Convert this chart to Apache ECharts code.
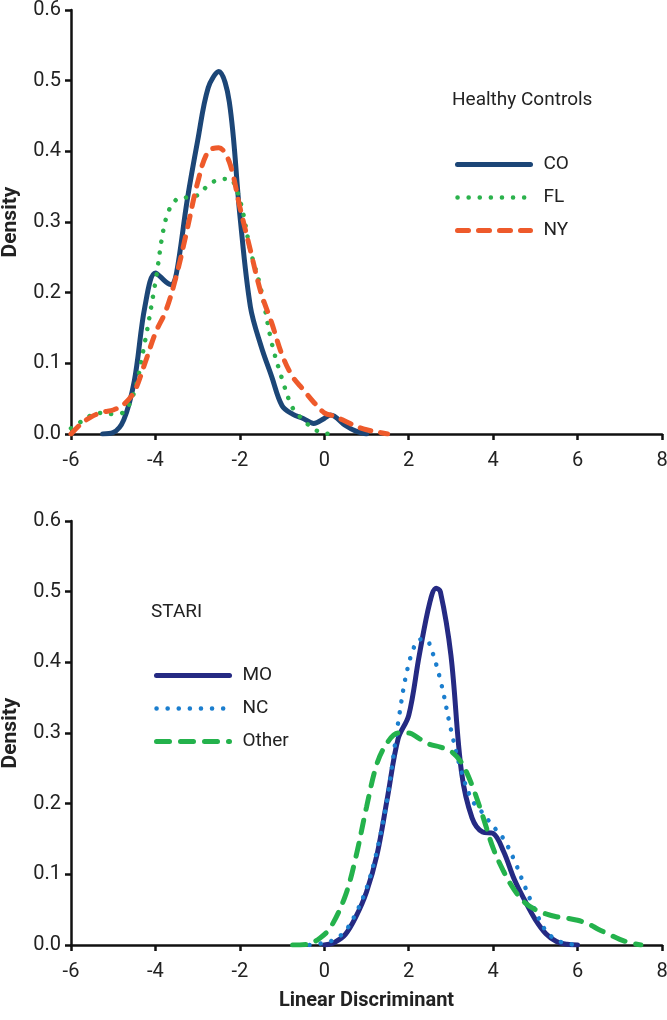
<!DOCTYPE html>
<html>
<head>
<meta charset="utf-8">
<script src="https://cdn.jsdelivr.net/npm/echarts@6/dist/echarts.min.js"></script>
<style>
html,body{margin:0;padding:0;background:#fff;}
#chart{width:667px;height:1020px;}
</style>
</head>
<body>
<div id="chart"></div>
<script>
// ---- Data ----
const xTicks = [-6, -4, -2, 0, 2, 4, 6, 8];
const yTicks = [0.0, 0.1, 0.2, 0.3, 0.4, 0.5, 0.6];

// Healthy Controls
const coX = [-5.25,-5.0,-4.75,-4.5,-4.25,-4.0,-3.75,-3.62,-3.5,-3.25,-3.0,-2.75,-2.5,-2.25,-2.0,-1.75,-1.5,-1.25,-1.0,-0.75,-0.5,-0.25,0.0,0.15,0.5,0.75,1.0];
const coY = [0,0.002,0.02,0.075,0.18,0.228,0.215,0.211,0.228,0.33,0.415,0.49,0.513,0.47,0.31,0.18,0.125,0.082,0.04,0.028,0.022,0.015,0.022,0.027,0.012,0.004,0];

const flX = [-6.0,-5.75,-5.5,-5.25,-5.0,-4.75,-4.5,-4.25,-4.0,-3.75,-3.5,-3.25,-3.0,-2.75,-2.5,-2.25,-2.0,-1.75,-1.5,-1.25,-1.0,-0.75,-0.5,-0.25,0.0,0.2];
const flY = [0.008,0.018,0.027,0.03,0.028,0.031,0.06,0.13,0.215,0.305,0.332,0.335,0.338,0.352,0.36,0.361,0.331,0.26,0.205,0.13,0.078,0.037,0.02,0.007,0.001,0];

const nyX = [-6.0,-5.75,-5.5,-5.25,-5.0,-4.75,-4.5,-4.25,-4.0,-3.75,-3.5,-3.25,-3.0,-2.75,-2.5,-2.25,-2.0,-1.75,-1.5,-1.25,-1.0,-0.75,-0.5,-0.25,0.0,0.25,0.5,0.75,1.0,1.25,1.5];
const nyY = [0,0.015,0.025,0.031,0.034,0.042,0.06,0.1,0.143,0.175,0.225,0.289,0.356,0.4,0.405,0.385,0.321,0.26,0.2,0.158,0.112,0.081,0.063,0.045,0.03,0.025,0.018,0.011,0.006,0.003,0];

// STARI
const moX = [0.0,0.25,0.5,0.75,1.0,1.25,1.5,1.75,2.0,2.25,2.5,2.65,2.75,3.0,3.25,3.5,3.75,4.0,4.25,4.5,4.75,5.0,5.25,5.5,5.75,6.0];
const moY = [0,0.004,0.015,0.04,0.075,0.128,0.21,0.292,0.325,0.41,0.485,0.505,0.5,0.41,0.245,0.18,0.16,0.158,0.132,0.093,0.063,0.036,0.016,0.005,0.001,0];

const ncX = [-0.35,0.0,0.25,0.5,0.75,1.0,1.25,1.5,1.75,2.0,2.25,2.4,2.5,2.75,3.0,3.25,3.5,3.75,4.0,4.25,4.5,4.75,5.0,5.25,5.5,5.75,6.0];
const ncY = [0,0.003,0.008,0.02,0.045,0.08,0.134,0.21,0.315,0.398,0.432,0.433,0.425,0.375,0.305,0.245,0.205,0.187,0.168,0.15,0.12,0.083,0.048,0.02,0.007,0.002,0];

const otX = [-0.75,-0.4,-0.1,0.15,0.5,0.75,1.0,1.25,1.5,1.75,2.0,2.25,2.5,2.75,3.0,3.25,3.5,3.75,4.0,4.25,4.5,4.75,5.0,5.25,5.5,5.75,6.0,6.25,6.5,6.75,7.0,7.25,7.5];
const otY = [0,0.001,0.01,0.025,0.07,0.125,0.195,0.257,0.287,0.3,0.3,0.292,0.284,0.28,0.274,0.258,0.226,0.183,0.137,0.104,0.078,0.06,0.05,0.044,0.04,0.038,0.035,0.03,0.022,0.015,0.008,0.003,0];

// ---- Chart ----
const FONT = 'Roboto, "Liberation Sans", sans-serif';
const pairs = (xs, ys) => xs.map((x, i) => [x, ys[i]]);

function xAxisCfg(gi, withName) {
  return {
    type: 'value', gridIndex: gi,
    min: xTicks[0], max: xTicks[xTicks.length - 1], interval: 2,
    axisLine: { show: true, onZero: false, lineStyle: { color: '#111', width: 2.5 } },
    axisTick: { show: true, inside: false, length: 6, lineStyle: { color: '#111', width: 2.5 } },
    splitLine: { show: false },
    axisLabel: { color: '#222', fontSize: 20, fontFamily: FONT, margin: 17 },
    name: withName ? 'Linear Discriminant' : '',
    nameLocation: 'middle', nameGap: 46,
    nameTextStyle: { color: '#222', fontSize: 20, fontWeight: 'bold', fontFamily: FONT }
  };
}
function yAxisCfg(gi) {
  return {
    type: 'value', gridIndex: gi,
    min: yTicks[0], max: yTicks[yTicks.length - 1], interval: 0.1,
    axisLine: { show: true, onZero: false, lineStyle: { color: '#111', width: 2.5 } },
    axisTick: { show: true, inside: false, length: 6, lineStyle: { color: '#111', width: 2.5 } },
    splitLine: { show: false },
    axisLabel: { color: '#222', fontSize: 20, fontFamily: FONT, margin: 10,
      formatter: v => v.toFixed(1) },
    name: 'Density', nameLocation: 'middle', nameGap: 50, nameRotate: 90,
    nameTextStyle: { color: '#222', fontSize: 21, fontWeight: 'bold', fontFamily: FONT }
  };
}
function lineSeries(name, gi, xs, ys, color, width, type) {
  return {
    name, type: 'line', xAxisIndex: gi, yAxisIndex: gi,
    data: pairs(xs, ys), smooth: 0.35, showSymbol: false, symbol: 'none',
    lineStyle: { color, width, type, cap: 'round' },
    itemStyle: { color },
    emphasis: { disabled: true }, silent: true, z: 3
  };
}
const legendText = { color: '#222', fontSize: 19, fontFamily: FONT, padding: [0, 0, 0, 8] };
const legendCommon = {
  orient: 'vertical', itemWidth: 73, itemHeight: 18, itemGap: 14, padding: 0,
  selectedMode: false, textStyle: legendText,
  itemStyle: { opacity: 0 },
  lineStyle: { width: 'inherit', type: 'inherit', cap: 'round' }
};

const option = {
  animation: false,
  backgroundColor: '#fff',
  grid: [
    { left: 71, top: 10, width: 591, height: 424, outerBoundsMode: 'none', containLabel: false },
    { left: 71, top: 521, width: 591, height: 424, outerBoundsMode: 'none', containLabel: false }
  ],
  title: [
    { text: 'Healthy Controls', left: 447, top: 86,
      textStyle: { color: '#222', fontSize: 19, fontWeight: 'normal', fontFamily: FONT } },
    { text: 'STARI', left: 146, top: 598,
      textStyle: { color: '#222', fontSize: 19, fontWeight: 'normal', fontFamily: FONT } }
  ],
  legend: [
    Object.assign({ left: 455, top: 155, data: ['CO', 'FL', 'NY'] }, legendCommon),
    Object.assign({ left: 154, top: 666, data: ['MO', 'NC', 'Other'] }, legendCommon)
  ],
  xAxis: [xAxisCfg(0, false), xAxisCfg(1, true)],
  yAxis: [yAxisCfg(0), yAxisCfg(1)],
  series: [
    lineSeries('CO', 0, coX, coY, '#1c4677', 5, 'solid'),
    lineSeries('FL', 0, flX, flY, '#2bb24c', 4.5, [0.1, 11]),
    lineSeries('NY', 0, nyX, nyY, '#ee5a2b', 5, [11, 10]),
    lineSeries('MO', 1, moX, moY, '#252a83', 5, 'solid'),
    lineSeries('NC', 1, ncX, ncY, '#1b7ece', 4.5, [0.1, 11]),
    lineSeries('Other', 1, otX, otY, '#24b24c', 5, [13, 11])
  ]
};

const chart = echarts.init(document.getElementById('chart'), null, { renderer: 'canvas' });
chart.setOption(option);
</script>
</body>
</html>
